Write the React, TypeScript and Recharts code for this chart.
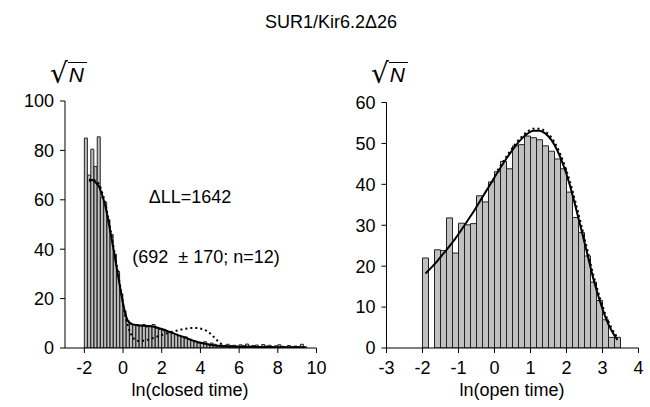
import React from 'react';
import { ComposedChart, Bar, Line, XAxis, YAxis } from 'recharts';

// bins are 1/6 ln unit wide, both histograms start at ln = -2
const BIN = 1 / 6;
const FIRST_EDGE = -2;

// closed times: sqrt(N) per bin
const closedCounts = [
  85, 70, 80.5, 73.5, 85.5, 61, 59, 52, 46, 38, 31, 22, 15, 11, 10, 9.5, 9.5, 9, 9.5, 8.5,
  9, 9.5, 8, 7.5, 7, 7, 6.5, 6, 5.5, 5, 4.5, 4.5, 3.5, 3, 2.5, 2, 2, 2.5, 1.5, 2,
  1.5, 1, 1.2, 0.8, 1.5, 0.9, 1.1, 0.6, 1.3, 0.9, 1.6, 0.7, 1.0, 1.2, 0.5, 1.4, 0.8, 1.1, 0.6, 0.9,
  1.3, 0.7, 0.5, 1.0, 0.4, 0.8, 0.6, 1.5, 0.5,
];
const closedFit = [
  null, 67.5, 68, 67, 65.5, 62, 57.5, 51, 44, 36.5, 29, 21.5, 15, 11, 9.8, 9.4, 9.2, 9.1, 9.0, 8.9,
  8.8, 8.6, 8.3, 7.9, 7.5, 7.0, 6.5, 6.0, 5.5, 5.0, 4.6, 4.1, 3.6, 3.1, 2.7, 2.3, 2.0, 1.7, 1.4, 1.2,
  1.0, 0.9, 0.8, 0.7, 0.7, 0.6, 0.6, 0.6, 0.5, 0.5, 0.5, 0.5, 0.5, 0.4, 0.4, 0.4, 0.4, 0.4, 0.4, 0.3,
  0.3, 0.3, 0.3, 0.3, 0.3, 0.3, 0.3, 0.3, 0.3,
];
const closedAltFit = [
  null, 68, 68.5, 67.5, 66.5, 63, 58.5, 52, 45, 37.5, 30, 22, 14, 9, 5.5, 3.6, 2.9, 2.8, 3.0, 3.3,
  3.7, 4.1, 4.6, 5.0, 5.5, 5.9, 6.3, 6.7, 7.0, 7.3, 7.6, 7.8, 8.0, 8.1, 8.1, 8.0, 7.7, 7.2, 6.4, 5.3,
  4.0, 2.7, 1.6, 0.9, 0.5, 0.4, 0.3, 0.3, 0.3, 0.3,
];

// open times
const openCounts = [
  22, 0, 24, 23.8, 31.8, 23.2, 30.5, 30.1, 30.4, 37.2, 35.7, 40.6, 43.1, 45.6, 43.8, 49.4, 49.7,
  51.8, 51.4, 50.9, 49.4, 48.1, 46.2, 43.8, 38.1, 31.9, 28.2, 22.5, 16.1, 11.6, 6.9, 2.6, 2.6,
];
const openFit = [
  18.2, 19.7, 21.3, 23.1, 24.9, 26.8, 28.9, 31.1, 33.3, 35.7, 38.1, 40.5, 42.9, 45.2, 47.4, 49.4,
  51.1, 52.4, 53.1, 53.1, 52.4, 50.8, 48.2, 44.6, 40.1, 34.6, 28.8, 22.8, 16.8, 11.8, 7.5, 4.3, 2.0,
];
const openAltFit = [
  null, null, null, null, null, null, null, null, null, null, null, null,
  43.4, 45.7, 47.9, 49.9, 51.6, 52.9, 53.6, 53.6, 52.9, 51.4, 48.9, 45.4, 41.0, 35.6, 29.8, 23.8,
  17.7, 12.6, 8.2, 4.9, 2.5,
];

const closedXTicks = [-2, 0, 2, 4, 6, 8, 10];
const closedYTicks = [0, 20, 40, 60, 80, 100];
const openXTicks = [-3, -2, -1, 0, 1, 2, 3, 4];
const openYTicks = [0, 10, 20, 30, 40, 50, 60];

const toRows = (counts: number[], fit: (number | null)[], alt: (number | null)[]) =>
  counts.map((n, i) => ({
    t: FIRST_EDGE + (i + 0.5) * BIN,
    n,
    fit: fit[i] ?? null,
    alt: alt[i] ?? null,
  }));

const FONT = '"Liberation Sans", Arial, Helvetica, sans-serif';
const tickStyle = { fill: '#000', fontSize: 18, fontFamily: FONT };

type HistProps = {
  rows: any[];
  xDomain: [number, number];
  xTicks: number[];
  yDomain: [number, number];
  yTicks: number[];
  width: number;
  height: number;
  margin: { top: number; right: number; left: number; bottom: number };
  yWidth: number;
  xHeight: number;
};

const Histogram = ({ rows, xDomain, xTicks, yDomain, yTicks, width, height, margin, yWidth, xHeight }: HistProps) => (
  <ComposedChart width={width} height={height} data={rows} margin={margin} barCategoryGap={0} barGap={0}>
    <XAxis
      dataKey="t"
      type="number"
      domain={xDomain}
      ticks={xTicks}
      interval={0}
      height={xHeight}
      stroke="#000"
      tickSize={5}
      tickMargin={8}
      tick={tickStyle}
      allowDataOverflow
    />
    <YAxis
      type="number"
      domain={yDomain}
      ticks={yTicks}
      interval={0}
      width={yWidth}
      stroke="#000"
      tickSize={5}
      tickMargin={6}
      tick={tickStyle}
      allowDataOverflow
    />
    <Bar dataKey="n" fill="#c0c0c0" stroke="#222" strokeWidth={1} isAnimationActive={false} />
    <Line
      dataKey="alt"
      type="monotone"
      stroke="#000"
      strokeWidth={2}
      strokeDasharray="2 3"
      dot={false}
      activeDot={false}
      isAnimationActive={false}
    />
    <Line
      dataKey="fit"
      type="monotone"
      stroke="#000"
      strokeWidth={2}
      dot={false}
      activeDot={false}
      isAnimationActive={false}
    />
  </ComposedChart>
);

// square-root sign with an overlined italic N, as the y-axis unit
const SqrtN = ({ left, top }: { left: number; top: number }) => (
  <div style={{ position: 'absolute', left, top, fontFamily: FONT, lineHeight: 1, whiteSpace: 'nowrap' }}>
    <span style={{ fontSize: 28, fontFamily: '"DejaVu Sans", sans-serif' }}>√</span>
    <span
      style={{
        fontSize: 21,
        fontStyle: 'italic',
        borderTop: '1.5px solid #000',
        paddingLeft: 1,
        paddingRight: 3,
        position: 'relative',
        top: -1,
      }}
    >
      N
    </span>
  </div>
);

const Label = ({ x, y, children }: { x: number; y: number; children: React.ReactNode }) => (
  <div
    style={{
      position: 'absolute',
      left: x,
      top: y,
      transform: 'translate(-50%, -50%)',
      fontFamily: FONT,
      fontSize: 18,
      whiteSpace: 'pre',
      lineHeight: 1,
    }}
  >
    {children}
  </div>
);

export default function App() {
  const closedRows = toRows(closedCounts, closedFit, closedAltFit);
  const openRows = toRows(openCounts, openFit, openAltFit);

  return (
    <div style={{ position: 'absolute', left: 0, top: 0, width: 650, height: 407, background: '#fff' }}>
      <div style={{ position: 'absolute', left: 0, top: 0 }}>
        <Histogram
          rows={closedRows}
          xDomain={[-3, 10]}
          xTicks={closedXTicks}
          yDomain={[0, 100]}
          yTicks={closedYTicks}
          width={330}
          height={400}
          margin={{ top: 101, right: 13.5, left: 0, bottom: 0 }}
          yWidth={65}
          xHeight={52}
        />
      </div>
      <div style={{ position: 'absolute', left: 330, top: 0 }}>
        <Histogram
          rows={openRows}
          xDomain={[-3, 4]}
          xTicks={openXTicks}
          yDomain={[0, 60]}
          yTicks={openYTicks}
          width={320}
          height={400}
          margin={{ top: 102.5, right: 11.5, left: 0, bottom: 0 }}
          yWidth={56.5}
          xHeight={52}
        />
      </div>

      <Label x={331} y={22}>SUR1/Kir6.2Δ26</Label>
      <Label x={190} y={197}>ΔLL=1642</Label>
      <Label x={206} y={257}>(692  ± 170; n=12)</Label>
      <Label x={190} y={390}>ln(closed time)</Label>
      <Label x={512} y={390}>ln(open time)</Label>

      <SqrtN left={50} top={60} />
      <SqrtN left={371} top={60} />
    </div>
  );
}
